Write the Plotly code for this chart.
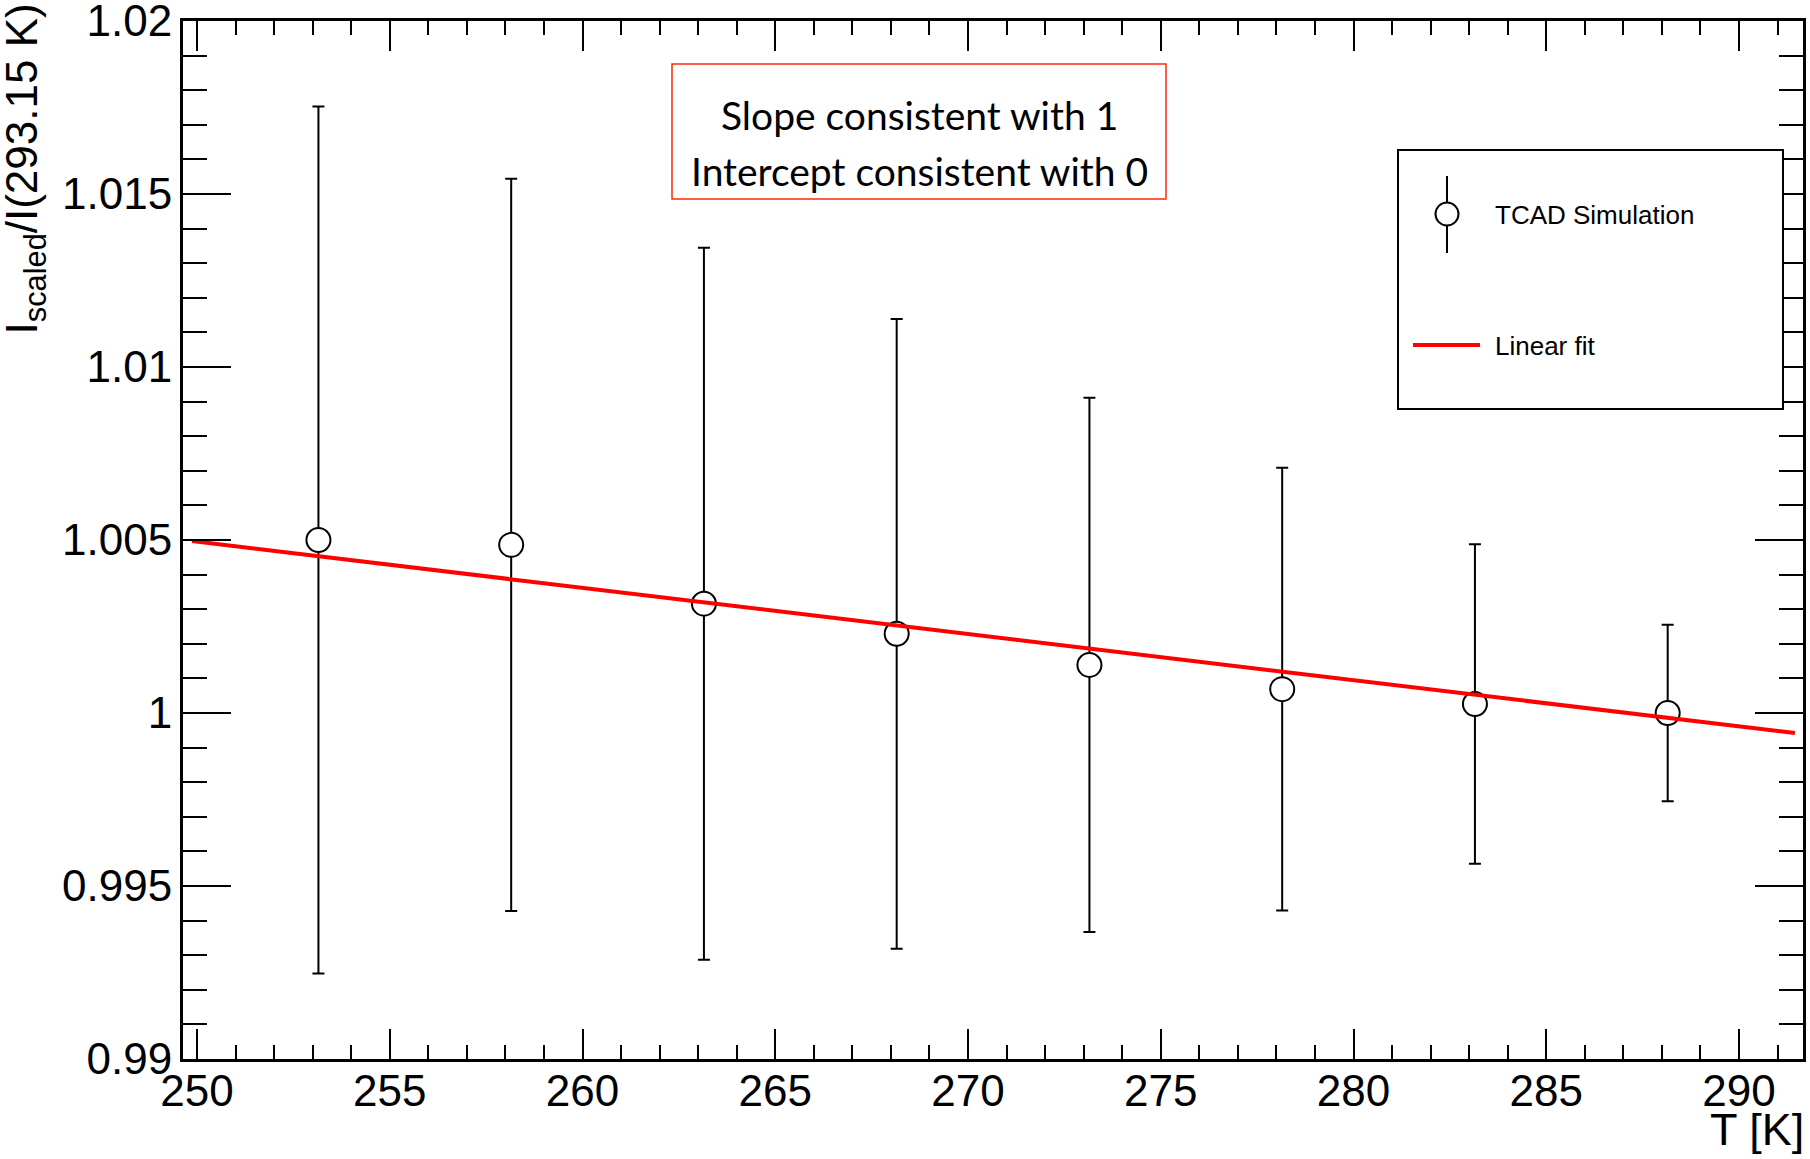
import plotly.graph_objects as go

# Temperature points and scaled current ratio with uncertainties
temperature_K = [253.15, 258.15, 263.15, 268.15, 273.15, 278.15, 283.15, 288.15]
current_ratio = [1.0050, 1.00486, 1.00316, 1.00229, 1.00139, 1.00069, 1.00026, 1.0000]
ratio_error = [0.01253, 0.01058, 0.01029, 0.0091, 0.00772, 0.0064, 0.00462, 0.00255]

# Linear fit evaluated at the ends of its range
fit_T = [249.87, 291.45]
fit_ratio = [1.00497, 0.99942]

# Axis ticks
x_ticks = [250, 255, 260, 265, 270, 275, 280, 285, 290]
y_ticks = [0.99, 0.995, 1.0, 1.005, 1.01, 1.015, 1.02]
y_tick_text = ["0.99", "0.995", "1", "1.005", "1.01", "1.015", "1.02"]

W, H = 1810, 1159
L, R, T, B = 183, 7, 21, 100
PW, PH = W - L - R, H - T - B


def px(x):
    return (x - L) / PW


def py(y):
    return (H - B - y) / PH


AX_FONT = "Liberation Sans, Arial, Helvetica, sans-serif"

fig = go.Figure()

fig.add_trace(go.Scatter(
    x=temperature_K, y=current_ratio, mode="markers", name="TCAD Simulation",
    marker=dict(symbol="circle", size=24, color="white",
                line=dict(color="black", width=2)),
    error_y=dict(type="data", array=ratio_error, visible=True,
                 color="black", thickness=2, width=6),
    showlegend=False,
))

fig.add_trace(go.Scatter(
    x=fit_T, y=fit_ratio, mode="lines", name="Linear fit",
    line=dict(color="#ff0000", width=4),
    showlegend=False,
))

axis_common = dict(
    showgrid=False, zeroline=False, showline=True, linecolor="black",
    linewidth=3, mirror="ticks", ticks="inside", tickcolor="black",
    tickwidth=2, tickfont=dict(family=AX_FONT, size=44, color="black"),
    ticklabeloverflow="allow", automargin=False,
)

fig.update_xaxes(
    range=[249.637, 291.66], tickmode="array", tickvals=x_ticks,
    ticklen=30, ticklabelstandoff=-9,
    minor=dict(dtick=1, tick0=250, ticklen=14, tickwidth=2,
               ticks="inside", tickcolor="black", showgrid=False),
    **axis_common,
)
fig.update_yaxes(
    range=[0.99, 1.0200001], tickmode="array", tickvals=y_ticks,
    ticktext=y_tick_text, ticklen=48, ticklabelstandoff=-1,
    minor=dict(dtick=0.001, tick0=0.99, ticklen=24, tickwidth=2,
               ticks="inside", tickcolor="black", showgrid=False),
    **axis_common,
)

shapes = []
annotations = []

# Axis titles
annotations.append(dict(
    text="T [K]", xref="paper", yref="paper", x=px(1806), y=py(1129),
    xanchor="right", yanchor="middle", showarrow=False,
    font=dict(family=AX_FONT, size=45, color="black"),
))
annotations.append(dict(
    text="I<sub>scaled</sub>/I(293.15 K)", xref="paper", yref="paper",
    x=px(25), y=py(2), xanchor="center", yanchor="top", textangle=-90,
    showarrow=False, font=dict(family=AX_FONT, size=44, color="black"),
))

# Red-framed note
shapes.append(dict(type="rect", xref="paper", yref="paper",
                   x0=px(672), x1=px(1166), y0=py(199), y1=py(64),
                   line=dict(color="#ff2a0a", width=1.5), fillcolor="white"))
NOTE_FONT = dict(family="Lato, Open Sans, sans-serif", size=39, color="black")
annotations.append(dict(text="Slope consistent with 1", xref="paper", yref="paper",
                        x=px(919), y=py(115), xanchor="center", yanchor="middle",
                        showarrow=False, font=NOTE_FONT))
annotations.append(dict(text="Intercept consistent with 0", xref="paper", yref="paper",
                        x=px(919), y=py(171), xanchor="center", yanchor="middle",
                        showarrow=False, font=NOTE_FONT))

# Legend box
shapes.append(dict(type="rect", xref="paper", yref="paper",
                   x0=px(1398), x1=px(1783), y0=py(409), y1=py(150),
                   line=dict(color="black", width=2), fillcolor="white"))
# data entry: vertical error bar with open circle
shapes.append(dict(type="line", xref="paper", yref="paper",
                   x0=px(1447), x1=px(1447), y0=py(253), y1=py(176),
                   line=dict(color="black", width=2)))
shapes.append(dict(type="circle", xref="paper", yref="paper",
                   x0=px(1447 - 11.5), x1=px(1447 + 11.5),
                   y0=py(214 + 11.5), y1=py(214 - 11.5),
                   line=dict(color="black", width=2), fillcolor="white"))
# fit entry: red line sample
shapes.append(dict(type="line", xref="paper", yref="paper",
                   x0=px(1413), x1=px(1480), y0=py(345), y1=py(345),
                   line=dict(color="#ff0000", width=4)))
LEG_FONT = dict(family=AX_FONT, size=26, color="black")
annotations.append(dict(text="TCAD Simulation", xref="paper", yref="paper",
                        x=px(1493), y=py(215), xanchor="left", yanchor="middle",
                        showarrow=False, font=LEG_FONT))
annotations.append(dict(text="Linear fit", xref="paper", yref="paper",
                        x=px(1493), y=py(346), xanchor="left", yanchor="middle",
                        showarrow=False, font=LEG_FONT))

fig.update_layout(
    width=W, height=H,
    margin=dict(l=L, r=R, t=T, b=B, pad=0, autoexpand=False),
    paper_bgcolor="white", plot_bgcolor="white",
    shapes=shapes, annotations=annotations,
    showlegend=False,
)

fig.write_html("out.html")
